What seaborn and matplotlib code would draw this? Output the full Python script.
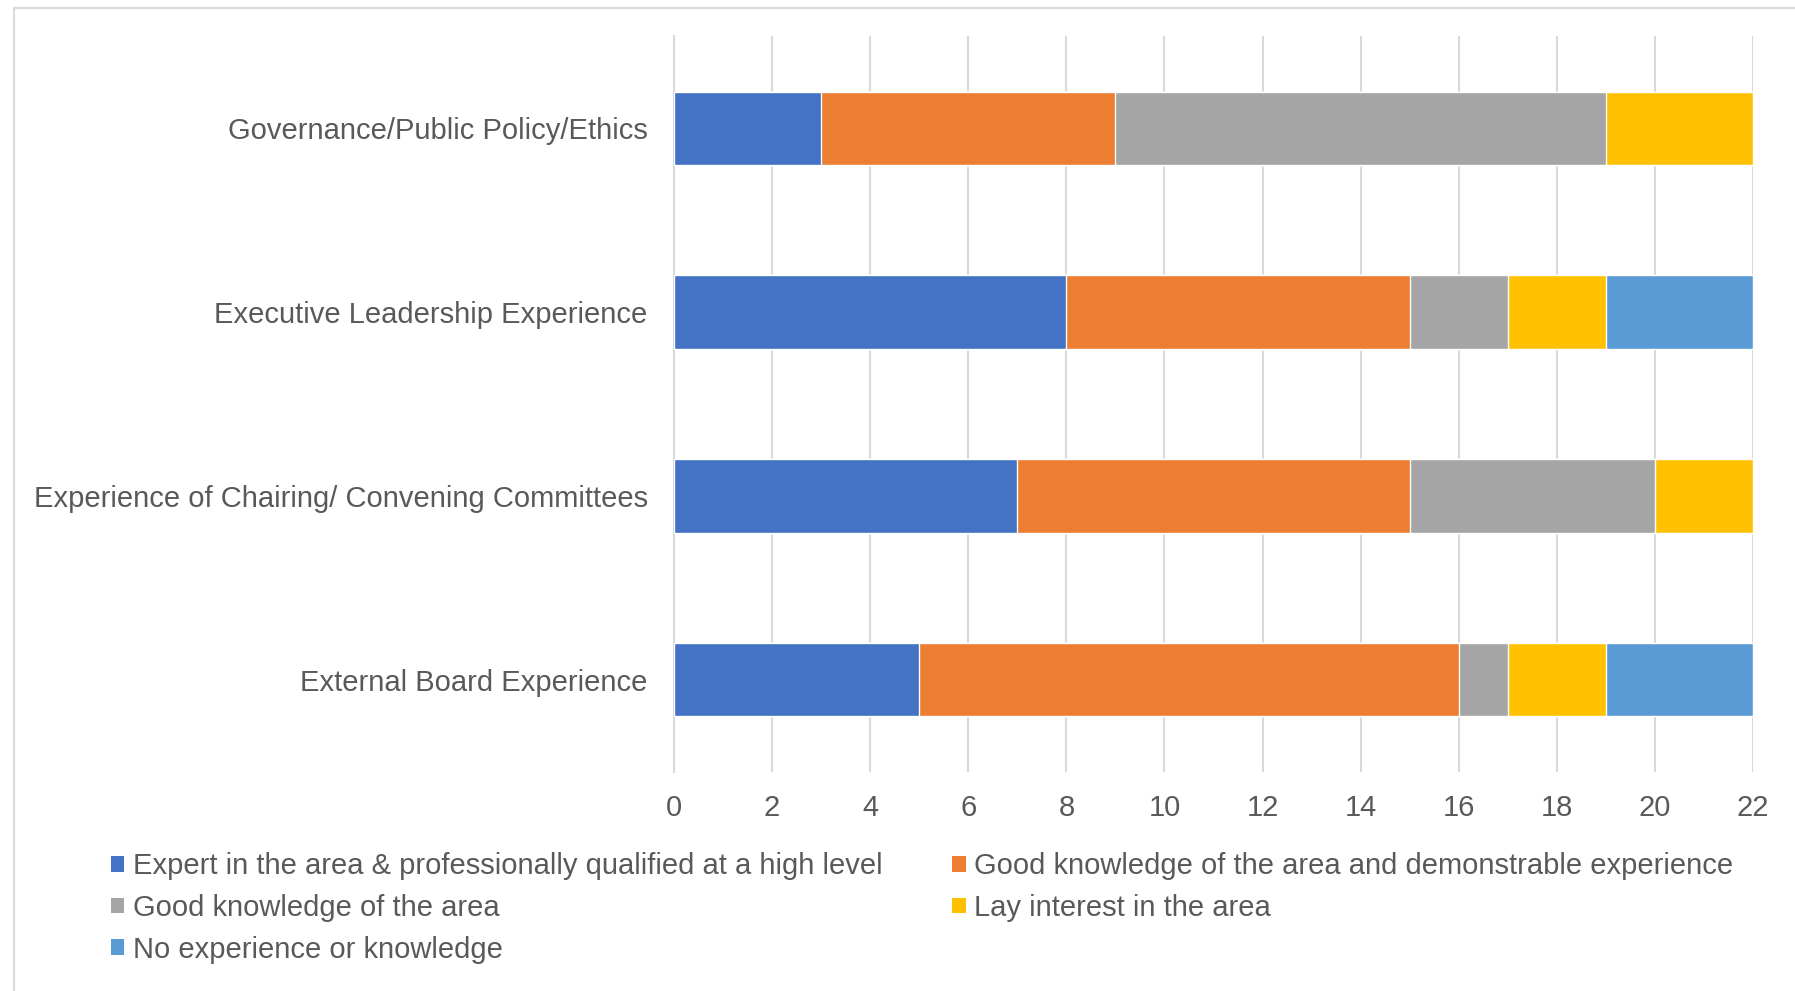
"""Stacked horizontal bars: board skills self-assessment."""

import numpy as np
import pandas as pd
import seaborn as sns
import matplotlib.pyplot as plt
from matplotlib.patches import Rectangle, Patch

sns.set_theme(style="white")
plt.rcParams['font.family'] = ['Liberation Sans', 'DejaVu Sans']

areas = ["Governance/Public Policy/Ethics",
         "Executive Leadership Experience",
         "Experience of Chairing/ Convening Committees",
         "External Board Experience"]
levels = ["Expert in the area & professionally qualified at a high level",
          "Good knowledge of the area and demonstrable experience",
          "Good knowledge of the area",
          "Lay interest in the area",
          "No experience or knowledge"]
expert = [3, 8, 7, 5]
good_demo = [6, 7, 8, 11]
good = [10, 2, 5, 1]
lay = [3, 2, 2, 2]
none_ = [0, 3, 0, 3]
colors = ["#4472C4", "#ED7D31", "#A5A5A5", "#FFC000", "#5B9BD5"]

df = pd.DataFrame({"area": areas})
counts = np.array([expert, good_demo, good, lay, none_])
cum = counts.cumsum(axis=0)
for i, lv in enumerate(levels):
    df[lv] = cum[i]

W, H = 1795, 991
fig = plt.figure(figsize=(W / 100, H / 100), dpi=100)
ax = fig.add_axes([0.3755, 0.2214, 0.9766 - 0.3755, 0.9632 - 0.2214])

# draw cumulative totals from the back so each level sits on top of the next
for i in range(len(levels) - 1, -1, -1):
    sns.barplot(data=df, x=levels[i], y="area", color=colors[i], orient="h",
                width=0.4, saturation=1, ax=ax, zorder=3)

txt = "#595959"
ax.set_xlim(0, 22)
ax.set_xticks(range(0, 23, 2))
ax.set_ylim(3.5, -0.5)
ax.set_xlabel("")
ax.set_ylabel("")
ax.grid(axis="x", color="#D9D9D9", linewidth=1.5, zorder=0)
ax.grid(axis="y", visible=False)
for s in ["top", "right", "bottom"]:
    ax.spines[s].set_visible(False)
ax.spines["left"].set_color("#D9D9D9")
ax.spines["left"].set_linewidth(1.5)
ax.tick_params(axis="x", length=0, pad=16, labelsize=21, labelcolor=txt)
ax.tick_params(axis="y", length=0, pad=19, labelsize=21, labelcolor=txt)

handles = [Patch(facecolor=c, edgecolor="none") for c in colors]
order = [0, 2, 4, 1, 3]
fig.legend([handles[i] for i in order], [levels[i] for i in order],
           loc="upper left", bbox_to_anchor=(0.0618, 0.140), ncol=2,
           frameon=False, fontsize=21, labelcolor=txt, borderpad=0,
           borderaxespad=0, handlelength=0.45, handleheight=0.45,
           handletextpad=0.3, columnspacing=2.4, labelspacing=0.47)

# chart frame (cut off at the right and bottom edges)
fig.add_artist(Rectangle((13.7 / W, -0.1), 1.2, 1.1 - 8 / H,
                         transform=fig.transFigure, fill=False,
                         edgecolor="#D9D9D9", linewidth=1.5))

fig.savefig("out.png", dpi=100)
